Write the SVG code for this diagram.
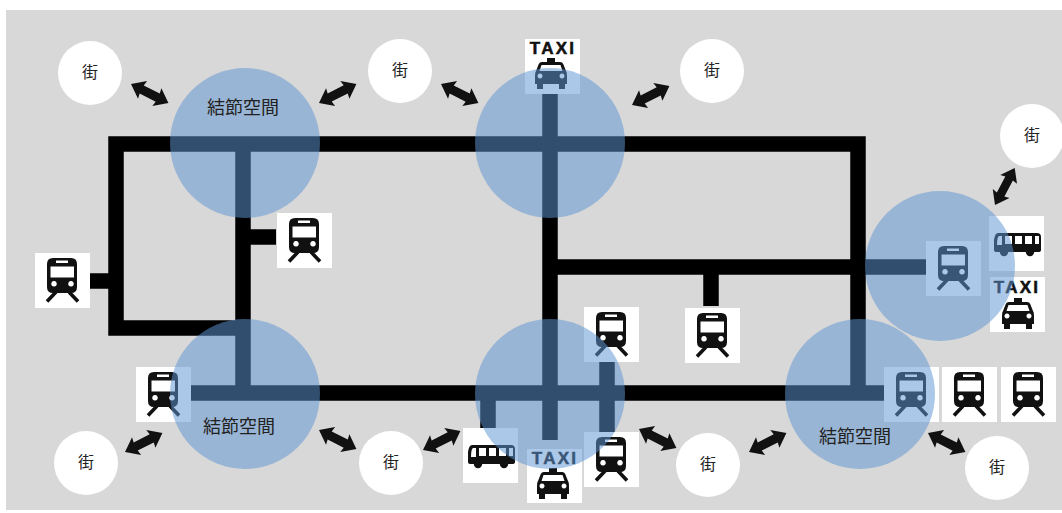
<svg xmlns="http://www.w3.org/2000/svg" xmlns:xlink="http://www.w3.org/1999/xlink" width="1062" height="513" viewBox="0 0 1062 513">
<style>
.ln{fill:none;stroke:#000;stroke-width:15.5;stroke-linecap:butt;stroke-linejoin:miter}
.hub{fill:#6096d2;fill-opacity:.52}
.st{fill:#fff}
.box{fill:#fff}
.jp{font-family:"Liberation Sans","Noto Sans CJK JP",sans-serif;fill:#222;text-anchor:middle}
.hubt{font-size:18px}
.stt{font-size:16px}
.taxi{font-family:"Liberation Sans",sans-serif;font-weight:700;font-size:17px;letter-spacing:2.2px;fill:#111;stroke:#111;stroke-width:.5;text-anchor:middle}
</style>
<defs>
<g id="train">
<rect width="55" height="55" class="box"/>
<path fill="#111" fill-rule="evenodd" d="M18 5H36Q42 5 42 11V34Q42 40 36 40H18Q12 40 12 34V11Q12 5 18 5ZM21 7.500V10H33V7.500ZM15.500 13.500V24.500H39V13.500ZM19 28a2.800 2.800 0 1 0 .01 0ZM36 28a2.800 2.800 0 1 0 .01 0Z"/>
<path fill="none" stroke="#111" stroke-width="3.600" d="M21 39L12 48.500M34 39L43 48.500"/>
</g>
<g id="bus">
<rect width="55" height="55" class="box"/>
<path fill="#111" fill-rule="evenodd" d="M9 17H48Q52 17 52 21V34Q52 36 49 36H7Q5 36 5 34V24Q6 17 9 17ZM10 20Q8 21 8 29H13V20ZM16 20V28H23V20ZM26 20V28H33V20ZM36 20V28H43V20ZM46 20V28H50V20Z"/>
<circle cx="15" cy="36" r="4.200" fill="#111"/><circle cx="41" cy="36" r="4.200" fill="#111"/>
</g>
<g id="car">
<path fill="#111" fill-rule="evenodd" d="M22 19H30V23H35Q38 23 39 27L41 32Q42 33 42 37V45H40V50H34V45H18V50H12V45H10V37Q10 33 11 32L13 27Q14 23 17 23H22ZM16.500 26L14.500 32H37.500L35.500 26ZM15 34.500a2.500 2.500 0 1 0 .01 0ZM37 34.500a2.500 2.500 0 1 0 .01 0Z"/>
</g>
<path id="arr" fill="#111" d="M0 0L13 -10L12 -4.500H30L29 -10L42 0L29 10L30 4.500H12L13 10Z"/>
</defs>
<rect width="1062" height="513" fill="#fff"/>
<rect x="6" y="10" width="1056" height="500" fill="#d8d8d8"/>

<g id="connectors">
<path class="ln" d="M243 328H116V144H858V393M90 281H116M243 144V393M243 237H276M190 393H885M550 93V440M550 267H858M711 267V306M858 267H926M607 362V432M488 393V428"/>
<g id="street-links">
<use href="#arr" transform="translate(131,84) rotate(27)"/>
<use href="#arr" transform="translate(319,103) rotate(-27)"/>
<use href="#arr" transform="translate(441,84) rotate(27)"/>
<use href="#arr" transform="translate(632,105) rotate(-27)"/>
<use href="#arr" transform="translate(995,205) rotate(-62) scale(1,.95)"/>
<use href="#arr" transform="translate(125,452) rotate(-27)"/>
<use href="#arr" transform="translate(319,430) rotate(27)"/>
<use href="#arr" transform="translate(423,450) rotate(-27)"/>
<use href="#arr" transform="translate(639,429) rotate(27)"/>
<use href="#arr" transform="translate(749,452) rotate(-27)"/>
<use href="#arr" transform="translate(928,433) rotate(27)"/>
</g>
</g>

<g id="train-1"><use href="#train" x="35" y="253"/></g>
<g id="train-2"><use href="#train" x="277" y="213"/></g>
<g id="train-3"><use href="#train" x="136" y="367"/></g>
<g id="train-4"><use href="#train" x="584" y="307"/></g>
<g id="train-5"><use href="#train" x="685" y="308"/></g>
<g id="train-6"><use href="#train" x="584" y="432"/></g>
<g id="train-7"><use href="#train" x="926" y="241"/></g>
<g id="train-8"><use href="#train" x="884" y="367"/></g>
<g id="train-9"><use href="#train" x="942" y="367"/></g>
<g id="train-10"><use href="#train" x="1001" y="367"/></g>
<g id="bus-1"><use href="#bus" x="463" y="428"/></g>
<g id="bus-2"><use href="#bus" x="989" y="216"/></g>
<g id="taxi-1"><rect class="box" x="525" y="39" width="55" height="55"/><text class="taxi" x="553" y="54">TAXI</text><use href="#car" x="525" y="39"/></g>
<g id="taxi-2"><rect class="box" x="527" y="449" width="55" height="54"/><text class="taxi" x="555" y="464">TAXI</text><use href="#car" x="527" y="449"/></g>
<g id="taxi-3"><rect class="box" x="990" y="277" width="55" height="55"/><text class="taxi" x="1017" y="293">TAXI</text><use href="#car" x="992" y="279"/></g>

<g id="hub-1"><circle class="hub" cx="245" cy="143" r="75"/><text class="jp hubt" x="243" y="114">結節空間</text></g>
<g id="hub-2"><circle class="hub" cx="550" cy="143" r="75"/></g>
<g id="hub-3"><circle class="hub" cx="245" cy="394" r="75"/><text class="jp hubt" x="239" y="433">結節空間</text></g>
<g id="hub-4"><circle class="hub" cx="550" cy="394" r="75"/></g>
<g id="hub-5"><circle class="hub" cx="860" cy="394" r="75"/><text class="jp hubt" x="855" y="443">結節空間</text></g>
<g id="hub-6"><circle class="hub" cx="940" cy="266" r="75"/></g>

<g id="street-1"><circle class="st" cx="90" cy="73" r="32"/><text class="jp stt" x="90" y="78">街</text></g>
<g id="street-2"><circle class="st" cx="400" cy="71" r="32"/><text class="jp stt" x="400" y="76">街</text></g>
<g id="street-3"><circle class="st" cx="712" cy="71" r="32"/><text class="jp stt" x="712" y="76">街</text></g>
<g id="street-4"><circle class="st" cx="1032" cy="136" r="32"/><text class="jp stt" x="1032" y="141">街</text></g>
<g id="street-5"><circle class="st" cx="86" cy="463" r="32"/><text class="jp stt" x="86" y="468">街</text></g>
<g id="street-6"><circle class="st" cx="391" cy="463" r="32"/><text class="jp stt" x="391" y="468">街</text></g>
<g id="street-7"><circle class="st" cx="708" cy="465" r="32"/><text class="jp stt" x="708" y="470">街</text></g>
<g id="street-8"><circle class="st" cx="997" cy="468" r="32"/><text class="jp stt" x="997" y="473">街</text></g>
</svg>
